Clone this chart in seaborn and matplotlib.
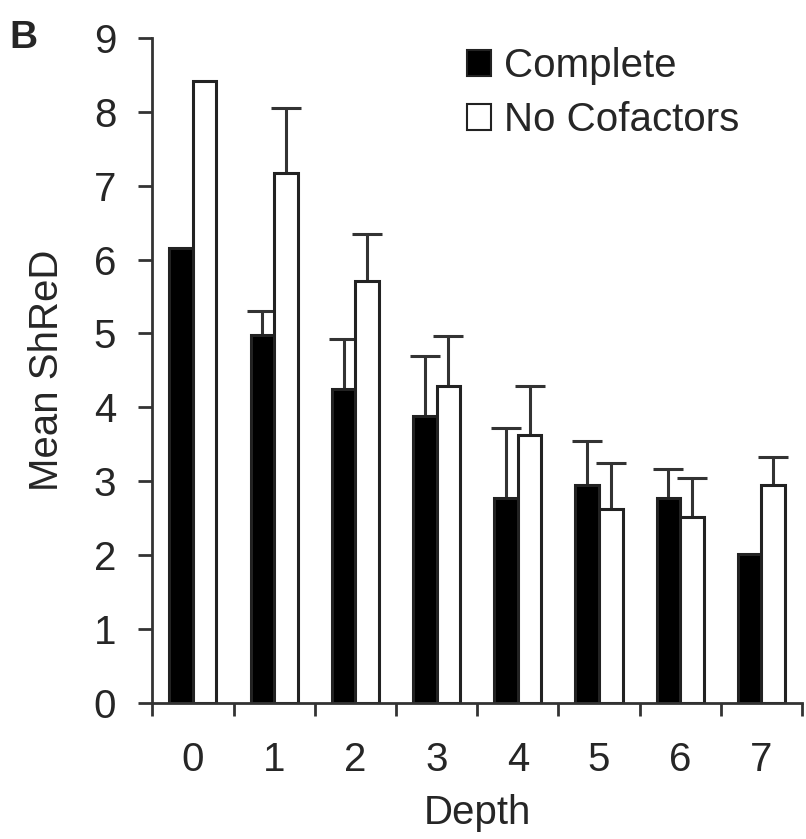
import numpy as np
import pandas as pd
import matplotlib
matplotlib.use("Agg")
import matplotlib.pyplot as plt
import seaborn as sns

depths = ["0", "1", "2", "3", "4", "5", "6", "7"]
complete_mean = [6.15, 4.98, 4.25, 3.88, 2.77, 2.95, 2.77, 2.02]
complete_err = [0.0, 0.32, 0.68, 0.82, 0.95, 0.60, 0.39, 0.0]
nocof_mean = [8.42, 7.17, 5.71, 4.29, 3.63, 2.63, 2.52, 2.95]
nocof_err = [0.0, 0.88, 0.63, 0.68, 0.66, 0.62, 0.53, 0.38]
series = ["Complete", "No Cofactors"]

sns.set_theme(style="white")
plt.rcParams['font.family'] = ['Liberation Sans', 'DejaVu Sans']

df = pd.DataFrame({
    "Depth": depths * 2,
    "Mean ShReD": complete_mean + nocof_mean,
    "Condition": [series[0]] * 8 + [series[1]] * 8,
})

fig = plt.figure(figsize=(8.06, 8.39), dpi=100)
ax = fig.add_axes([0.189, 0.162, 0.806, 0.793])

sns.barplot(data=df, x="Depth", y="Mean ShReD", hue="Condition",
            hue_order=series, palette=["black", "white"], width=0.58,
            edgecolor="#222222", linewidth=2.2, errorbar=None, ax=ax,
            saturation=1, zorder=2)

# error bars (upward only), positioned from the drawn bars
xs_c, xs_n = [], []
for p in ax.patches:
    if p.get_width() <= 0 or p.get_height() <= 0:
        continue
    cx = p.get_x() + p.get_width() / 2
    if p.get_facecolor()[0] < 0.5:
        xs_c.append(cx)
    else:
        xs_n.append(cx)
xs_c = sorted(xs_c)[:8]
xs_n = sorted(xs_n)[:8]
for xs, means, errs in [(xs_c, complete_mean, complete_err), (xs_n, nocof_mean, nocof_err)]:
    for x, m, e in zip(xs, means, errs):
        if e > 0:
            cont = ax.errorbar(x, m, yerr=[[0], [e]], fmt="none", ecolor="#333333",
                               elinewidth=2.2, capsize=11, capthick=2.2, zorder=1)
            caplines = cont[1]
            if len(caplines) >= 2:
                caplines[0].set_visible(False)

ax.set_ylim(0, 9)
ax.set_xlim(-0.5, 7.5)
ax.set_yticks(range(0, 10))
ax.set_xticks(np.arange(-0.5, 8.0, 1.0), minor=True)
ax.tick_params(axis="x", which="major", length=0, labelsize=29, pad=27)
ax.tick_params(axis="x", which="minor", length=9, width=2, direction="out", bottom=True, color="#333333")
ax.tick_params(axis="y", which="major", length=10, width=2, direction="out", left=True, labelsize=29, pad=16, color="#333333")
for s in ["top", "right"]:
    ax.spines[s].set_visible(False)
for s in ["left", "bottom"]:
    ax.spines[s].set_linewidth(2)
    ax.spines[s].set_color("#333333")

ax.set_xlabel("Depth", fontsize=29, labelpad=11)
ax.set_ylabel("Mean ShReD", fontsize=29, labelpad=20)

leg = ax.legend(loc="upper left", bbox_to_anchor=(0.46, 1.01), frameon=False,
                fontsize=29, handlelength=0.6, handleheight=0.6, handletextpad=0.3,
                labelspacing=0.4, borderaxespad=0)
for h in leg.legend_handles:
    h.set_linewidth(1.5)

fig.text(0.012, 0.955, "B", fontsize=28, fontweight="bold", va="center", ha="left")

fig.savefig("out.png", dpi=100)
